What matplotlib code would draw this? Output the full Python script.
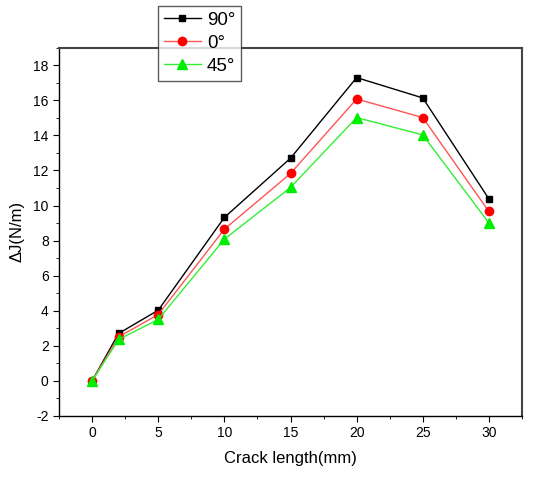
import matplotlib

matplotlib.use("Agg")

import matplotlib.pyplot as plt
from matplotlib.ticker import MultipleLocator

plt.rcParams["font.family"] = ["Liberation Sans", "DejaVu Sans"]
plt.rcParams["axes.unicode_minus"] = False

crack_mm = [0, 2, 5, 10, 15, 20, 25, 30]
dj_90 = [0.0, 2.70, 4.03, 9.32, 12.70, 17.30, 16.14, 10.38]
dj_0 = [0.0, 2.51, 3.78, 8.65, 11.83, 16.08, 15.02, 9.66]
dj_45 = [0.0, 2.36, 3.50, 8.08, 11.03, 15.02, 14.03, 9.01]

fig = plt.figure(figsize=(5.42, 4.78), dpi=100)
ax = fig.add_axes([0.109, 0.130, 0.854, 0.770])

l1, = ax.plot(crack_mm, dj_90, "-", color="black", lw=1.0,
              marker="s", ms=5, mfc="black", mec="black", label="90°")
l2, = ax.plot(crack_mm, dj_0, "-", color="#ff5555", lw=1.0,
              marker="o", ms=6, mfc="red", mec="red", label="0°")
l3, = ax.plot(crack_mm, dj_45, "-", color="#33ee33", lw=1.0,
              marker="^", ms=7.5, mfc="#00ee00", mec="#00ee00", label="45°")

ax.set_xlim(-2.5, 32.5)
ax.set_ylim(-2, 19)
ax.xaxis.set_major_locator(MultipleLocator(5))
ax.xaxis.set_minor_locator(MultipleLocator(2.5))
ax.yaxis.set_major_locator(MultipleLocator(2))
ax.yaxis.set_minor_locator(MultipleLocator(1))
ax.tick_params(which="both", direction="out", top=False, right=False, labelsize=10)
ax.tick_params(which="major", length=4)
ax.tick_params(which="minor", length=2.5)

for side in ("left", "bottom"):
    ax.spines[side].set_color("black")
    ax.spines[side].set_linewidth(1.0)
for side in ("top", "right"):
    ax.spines[side].set_color("#444444")
    ax.spines[side].set_linewidth(1.5)

ax.set_xlabel("Crack length(mm)", fontsize=12, labelpad=8)
ax.set_ylabel("ΔJ(N/m)", fontsize=12, labelpad=6)

leg = fig.legend(handles=[l1, l2, l3], loc="upper left",
                 bbox_to_anchor=(158 / 542, 1 - 6 / 478),
                 fontsize=13.5, frameon=True, fancybox=False,
                 handlelength=2.0, handletextpad=0.3, borderpad=0.3,
                 labelspacing=0.32, borderaxespad=0)
leg.get_frame().set_edgecolor("#333333")
leg.get_frame().set_linewidth(1.0)
leg.set_zorder(5)

fig.savefig("out.png", dpi=100)
plt.close(fig)
